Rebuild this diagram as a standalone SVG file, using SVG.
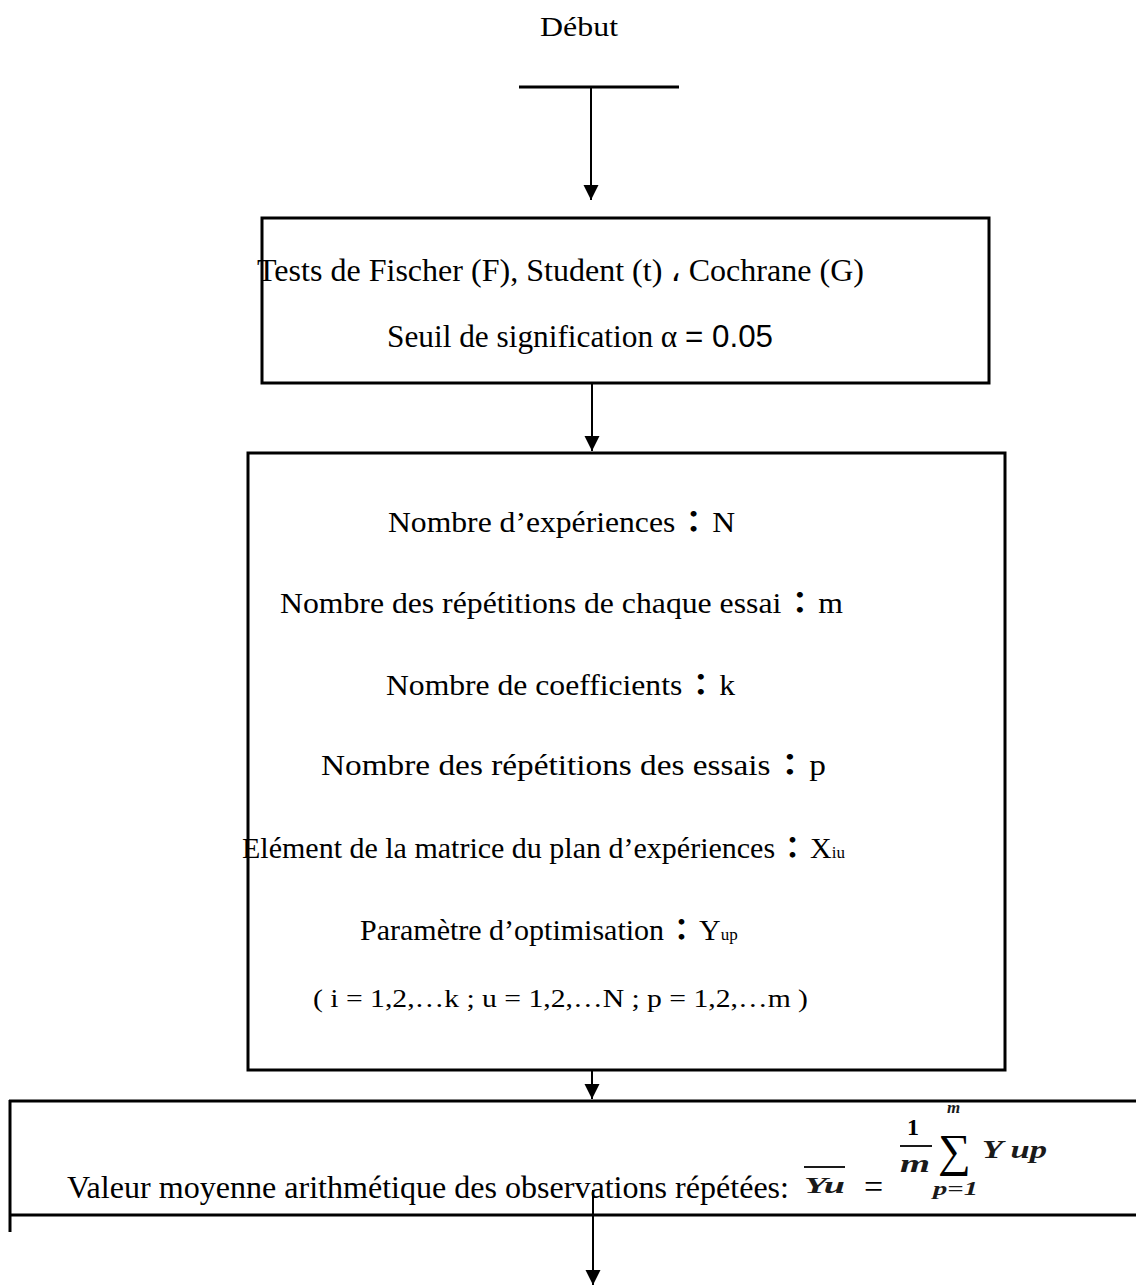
<svg xmlns="http://www.w3.org/2000/svg" width="1136" height="1286" viewBox="0 0 1136 1286">
<style>
.t{font-family:"Liberation Serif","Noto Sans CJK TC","DejaVu Sans",serif;fill:#000}
.c{font-family:"Noto Sans CJK TC","Noto Sans CJK SC",sans-serif;font-weight:bold}
.s{font-size:10px}
.box{fill:none;stroke:#000;stroke-width:3}
.ln{stroke:#000;stroke-width:3;fill:none}
.con{stroke:#000;stroke-width:2;fill:none}
.bi{font-family:"Liberation Serif","DejaVu Serif",serif;font-weight:bold;font-style:italic;fill:#1a1a1a}
.sans{font-family:"Liberation Sans",Arial,sans-serif}
</style>
<defs>
<marker id="ah" markerWidth="15" markerHeight="16" refX="15" refY="7.5" orient="auto" markerUnits="userSpaceOnUse">
<path d="M0,0 L15,7.5 L0,15 Z" fill="#000"/>
</marker>
</defs>
<rect width="1136" height="1286" fill="#fff"/>
<g id="debut">
<text class="t" x="540" y="36" font-size="27" textLength="78" lengthAdjust="spacingAndGlyphs">Début</text>
<line class="ln" x1="519" y1="87" x2="679" y2="87"/>
</g>
<g id="tests">
<rect class="box" x="262" y="218" width="727" height="165"/>
<text class="t" x="257" y="281" font-size="32" textLength="607" lengthAdjust="spacingAndGlyphs">Tests de Fischer (F), Student (t) ، Cochrane (G)</text>
<text class="t" x="387" y="347" font-size="32" textLength="386" lengthAdjust="spacingAndGlyphs">Seuil de signification α <tspan class="sans">= 0.05</tspan></text>
</g>
<g id="params">
<rect class="box" x="248" y="453" width="757" height="617"/>
<text class="t" x="388" y="532" font-size="30" textLength="347" lengthAdjust="spacingAndGlyphs">Nombre d’expériences<tspan class="s"> </tspan><tspan class="c">：</tspan><tspan class="s"> </tspan>N</text>
<text class="t" x="280" y="613" font-size="30" textLength="563" lengthAdjust="spacingAndGlyphs">Nombre des répétitions de chaque essai<tspan class="s"> </tspan><tspan class="c">：</tspan><tspan class="s"> </tspan>m</text>
<text class="t" x="386" y="695" font-size="30" textLength="349" lengthAdjust="spacingAndGlyphs">Nombre de coefficients<tspan class="s"> </tspan><tspan class="c">：</tspan><tspan class="s"> </tspan>k</text>
<text class="t" x="321" y="775" font-size="30" textLength="505" lengthAdjust="spacingAndGlyphs">Nombre des répétitions des essais<tspan class="s"> </tspan><tspan class="c">：</tspan><tspan class="s"> </tspan>p</text>
<text class="t" x="242" y="858" font-size="30">Elément de la matrice du plan d’expériences<tspan class="s"> </tspan><tspan class="c">：</tspan><tspan class="s"> </tspan>X<tspan font-size="17">iu</tspan></text>
<text class="t" x="360" y="940" font-size="30">Paramètre d’optimisation<tspan class="s"> </tspan><tspan class="c">：</tspan><tspan class="s"> </tspan>Y<tspan font-size="17">up</tspan></text>
<text class="t" x="313" y="1007" font-size="25" textLength="495" lengthAdjust="spacingAndGlyphs">( i = 1,2,…k ; u = 1,2,…N ; p = 1,2,…m )</text>
</g>
<g id="moyenne">
<line class="ln" x1="9" y1="1101" x2="1136" y2="1101"/>
<line class="ln" x1="10" y1="1100" x2="10" y2="1232"/>
<line class="ln" x1="9" y1="1215" x2="1136" y2="1215"/>
<text class="t" x="67" y="1198" font-size="32" textLength="722" lengthAdjust="spacingAndGlyphs">Valeur moyenne arithmétique des observations répétées:</text>
<text class="bi" x="804" y="1193" font-size="23" textLength="41" lengthAdjust="spacingAndGlyphs">Yu</text>
<line x1="804" y1="1167" x2="845" y2="1167" stroke="#1a1a1a" stroke-width="2"/>
<text class="t" x="864" y="1198" font-size="34">=</text>
<text class="t" x="907" y="1135" font-size="24" font-weight="bold">1</text>
<line x1="900" y1="1146" x2="932" y2="1146" stroke="#1a1a1a" stroke-width="2"/>
<text class="bi" x="900" y="1172" font-size="25" textLength="30" lengthAdjust="spacingAndGlyphs">m</text>
<text class="t" x="938" y="1166" font-size="46" font-family="DejaVu Serif, serif">∑</text>
<text class="bi" x="947" y="1113" font-size="17">m</text>
<text class="bi" x="933" y="1195" font-size="19" textLength="45" lengthAdjust="spacingAndGlyphs">p=1</text>
<text class="bi" x="982" y="1158" font-size="26" textLength="65" lengthAdjust="spacingAndGlyphs">Y up</text>
</g>
<g id="connectors">
<line class="con" x1="591" y1="87" x2="591" y2="200" marker-end="url(#ah)"/>
<line class="con" x1="592" y1="383" x2="592" y2="451" marker-end="url(#ah)"/>
<line class="con" x1="592" y1="1071" x2="592" y2="1099" marker-end="url(#ah)"/>
<line class="con" x1="593" y1="1190" x2="593" y2="1285" marker-end="url(#ah)"/>
</g>
</svg>
